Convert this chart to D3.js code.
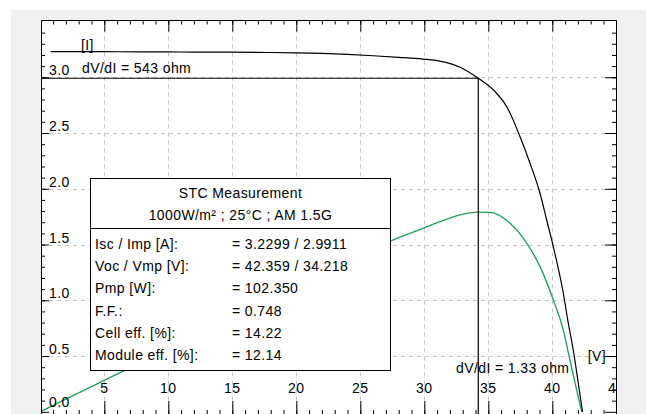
<!DOCTYPE html>
<html>
<head>
<meta charset="utf-8">
<script src="https://cdn.jsdelivr.net/npm/d3@7"></script>
<style>
  body { margin: 0; background: #fff; }
  svg text { font-family: "Liberation Sans", Arial, sans-serif; font-size: 14px; letter-spacing: 0.4px; fill: #000; }
</style>
</head>
<body>
<svg id="chart" width="646" height="414"></svg>
<script>
// I-V curve (V, A)
const voltage = [0.8, 2, 5, 8, 10, 12, 15, 18, 20, 22, 24, 26, 28, 29.9, 31.2, 32.8, 34.218,
                 35.4, 36.44, 37.48, 38.26, 39.04, 39.56, 40.08, 40.86, 41.25, 41.64, 42.03, 42.36];
const current = [3.230, 3.230, 3.229, 3.228, 3.227, 3.226, 3.225, 3.222, 3.219, 3.214, 3.205, 3.193, 3.179, 3.163, 3.145, 3.090, 2.991,
                 2.886, 2.736, 2.467, 2.229, 1.960, 1.720, 1.481, 1.063, 0.794, 0.554, 0.256, 0.0];

// P-V curve (V, W)
const powerVoltage = [0, 2, 5, 8, 10, 12, 15, 18, 20, 22, 24, 26, 27.4, 29.9, 31.23, 32.79, 34.218, 35.13,
                      36.7, 38.0, 39.04, 40.08, 40.86, 41.38, 41.9, 42.3];
const power = [0, 6.5, 16.1, 25.8, 32.3, 38.7, 48.4, 58.0, 64.4, 70.7, 76.9, 83.0, 87.6, 94.0, 97.4, 100.9, 102.35, 102.2,
               96.6, 86.4, 74.4, 57.3, 41.9, 26.5, 11.2, 0];

const xTicks = [5, 10, 15, 20, 25, 30, 35, 40, 45];
const xTickLabels = ['5', '10', '15', '20', '25', '30', '35', '40', '45'];
const yTicks = [0, 0.5, 1.0, 1.5, 2.0, 2.5, 3.0];
const yTickLabels = ['0.0', '0.5', '1.0', '1.5', '2.0', '2.5', '3.0'];

const vmp = 34.218, imp = 2.9911;
const boxTitle = ['STC Measurement', '1000W/m² ; 25°C ; AM 1.5G'];
const boxLabels = ['Isc / Imp [A]:', 'Voc / Vmp [V]:', 'Pmp [W]:', 'F.F.:', 'Cell eff. [%]:', 'Module eff. [%]:'];
const boxValues = ['= 3.2299 / 2.9911', '= 42.359 / 34.218', '= 102.350', '= 0.748', '= 14.22', '= 12.14'];

const PLOT = { left: 41, top: 20.5, right: 617, bottom: 418 };

let svg = d3.select('#chart');

let x = d3.scaleLinear().domain([0, 45]).range([40.3, 616.3]);
let y = d3.scaleLinear().domain([0, 3.5]).range([411.8, 21.5]);
let yP = d3.scaleLinear().domain([0, 200]).range([411.8, 21.5]);

// grey panel + white plot
svg.append('rect').attr('x', 11).attr('y', 10).attr('width', 635).attr('height', 404).attr('fill', '#f0f0f0');
svg.append('rect')
    .attr('x', PLOT.left).attr('y', PLOT.top)
    .attr('width', PLOT.right - PLOT.left).attr('height', PLOT.bottom - PLOT.top)
    .attr('fill', '#fff');

svg.append('clipPath').attr('id', 'clip')
    .append('rect')
    .attr('x', PLOT.left).attr('y', PLOT.top)
    .attr('width', PLOT.right - PLOT.left).attr('height', PLOT.bottom - PLOT.top);

let plot = svg.append('g').attr('clip-path', 'url(#clip)');

// dashed grid
plot.append('g').selectAll('line')
    .data(xTicks.filter(d => d < 45))
    .join('line')
    .attr('x1', d => Math.round(x(d)) + 0.5).attr('x2', d => Math.round(x(d)) + 0.5)
    .attr('y1', PLOT.top).attr('y2', PLOT.bottom)
    .attr('stroke', '#c4c4c4').attr('stroke-dasharray', '4,4');
plot.append('g').selectAll('line')
    .data(yTicks.filter(d => d > 0))
    .join('line')
    .attr('x1', PLOT.left).attr('x2', PLOT.right)
    .attr('y1', d => Math.round(y(d)) + 0.5).attr('y2', d => Math.round(y(d)) + 0.5)
    .attr('stroke', '#c4c4c4').attr('stroke-dasharray', '4,4');

// curves
let powerLine = d3.line().x((d, i) => x(powerVoltage[i])).y(d => yP(d)).curve(d3.curveMonotoneX);
plot.append('path').datum(power)
    .attr('d', powerLine)
    .attr('fill', 'none').attr('stroke', '#1e9e5a').attr('stroke-width', 1.3);

let ivLine = d3.line().x((d, i) => x(voltage[i])).y(d => y(d)).curve(d3.curveMonotoneX);
plot.append('path').datum(current)
    .attr('d', ivLine)
    .attr('fill', 'none').attr('stroke', '#000').attr('stroke-width', 1.2);

// max power point lines
plot.append('path')
    .attr('d', `M${PLOT.left},${y(imp)}H${x(vmp)}V${PLOT.bottom}`)
    .attr('fill', 'none').attr('stroke', '#000').attr('stroke-width', 1.2);

// ticks (inward on all four sides)
function ticks(axis, tx, ty) {
    let g = svg.append('g')
        .attr('transform', `translate(${tx},${ty})`)
        .attr('color', '#000')
        .call(axis);
    g.select('.domain').remove();
    g.selectAll('text').remove();
}
let minorX = d3.range(1, 45);
let minorY = d3.range(1, 35).map(d => d / 10);
ticks(d3.axisBottom(x).tickValues(minorX).tickSize(4).tickFormat(''), 0, PLOT.top);
ticks(d3.axisBottom(x).tickValues(xTicks.filter(d => d < 45)).tickSize(11).tickFormat(''), 0, PLOT.top);
ticks(d3.axisTop(x).tickValues(minorX).tickSize(4).tickFormat(''), 0, 414);
ticks(d3.axisTop(x).tickValues(xTicks.filter(d => d < 45)).tickSize(13).tickFormat(''), 0, 414);
ticks(d3.axisRight(y).tickValues(minorY).tickSize(4).tickFormat(''), PLOT.left, 0);
ticks(d3.axisRight(y).tickValues(yTicks).tickSize(8).tickFormat(''), PLOT.left, 0);
ticks(d3.axisLeft(y).tickValues(minorY).tickSize(5).tickFormat(''), PLOT.right, 0);
ticks(d3.axisLeft(y).tickValues(yTicks).tickSize(12).tickFormat(''), PLOT.right, 0);

// border
svg.append('path')
    .attr('d', `M${PLOT.left + 0.5},${PLOT.bottom}V${PLOT.top}H${PLOT.right - 0.5}V${PLOT.bottom}`)
    .attr('fill', 'none').attr('stroke', '#000').attr('stroke-width', 1);

// tick labels
plot.append('g').selectAll('text')
    .data(xTicks)
    .join('text')
    .attr('x', d => x(d)).attr('y', 393)
    .attr('text-anchor', 'middle')
    .text((d, i) => xTickLabels[i]);
plot.append('g').selectAll('text')
    .data(yTicks)
    .join('text')
    .attr('x', 49).attr('y', d => Math.min(y(d) - 2, 406.5))
    .text((d, i) => yTickLabels[i]);

// axis names and slope notes
plot.append('text').attr('x', 81).attr('y', 50).text('[I]');
plot.append('text').attr('x', 606).attr('y', 361).attr('text-anchor', 'end').text('[V]');
plot.append('text').attr('x', 82).attr('y', 73).text('dV/dI = 543 ohm');
plot.append('text').attr('x', 456).attr('y', 373).text('dV/dI = 1.33 ohm');

// STC info box
let box = svg.append('g');
box.append('rect')
    .attr('x', 90.5).attr('y', 178.5).attr('width', 300).attr('height', 192)
    .attr('fill', '#fff').attr('stroke', '#000');
box.append('line')
    .attr('x1', 90.5).attr('x2', 390.5).attr('y1', 228.5).attr('y2', 228.5)
    .attr('stroke', '#000');
box.selectAll('text.title')
    .data(boxTitle)
    .join('text')
    .attr('class', 'title')
    .attr('x', 240.5).attr('y', (d, i) => 197.5 + i * 22.8)
    .attr('text-anchor', 'middle')
    .text(d => d);
box.selectAll('text.lbl')
    .data(boxLabels)
    .join('text')
    .attr('class', 'lbl')
    .attr('x', 95).attr('y', (d, i) => 249 + i * 22.2)
    .text(d => d);
box.selectAll('text.val')
    .data(boxValues)
    .join('text')
    .attr('class', 'val')
    .attr('x', 232).attr('y', (d, i) => 249 + i * 22.2)
    .text(d => d);
</script>
</body>
</html>
